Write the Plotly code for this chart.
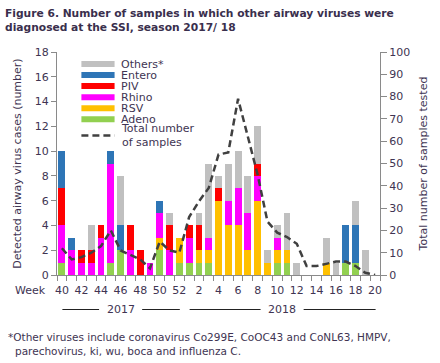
import plotly.graph_objects as go

# ---------------- data ----------------
weeks = [40, 41, 42, 43, 44, 45, 46, 47, 48, 49, 50, 51, 52,
         1, 2, 3, 4, 5, 6, 7, 8, 9, 10, 11, 12, 13, 14, 15, 16, 17, 18, 19, 20]
week_labels = [str(w) for w in weeks]

adeno  = [1, 0, 0, 0, 0, 1, 2, 0, 0, 0, 2, 0, 1,  1, 1, 1, 0, 0, 0, 0, 0, 0, 1, 1, 0, 0, 0, 0, 0, 1, 1, 0, 0]
rsv    = [0, 0, 0, 0, 0, 0, 0, 0, 0, 0, 1, 0, 2,  0, 1, 1, 6, 4, 4, 2, 6, 1, 1, 1, 0, 0, 0, 1, 0, 0, 0, 0, 0]
rhino  = [3, 2, 1, 1, 3, 8, 0, 2, 0, 1, 2, 2, 0,  2, 0, 1, 0, 2, 3, 3, 2, 0, 1, 0, 0, 0, 0, 0, 0, 0, 0, 0, 0]
piv    = [3, 0, 1, 1, 1, 0, 0, 2, 2, 0, 0, 2, 0,  1, 2, 0, 1, 0, 0, 0, 1, 0, 0, 0, 0, 0, 0, 0, 0, 0, 0, 0, 0]
entero = [3, 1, 0, 0, 0, 1, 2, 0, 0, 0, 1, 0, 0,  0, 0, 0, 0, 0, 0, 0, 0, 0, 0, 0, 0, 0, 0, 0, 0, 3, 3, 0, 0]
others = [0, 0, 0, 2, 0, 0, 4, 0, 0, 0, 0, 1, 0,  0, 1, 6, 1, 3, 3, 3, 3, 1, 1, 3, 1, 0, 0, 2, 1, 0, 2, 2, 0]
total_samples = [12, 7, 8, 10, 13, 20, 11, 9, 7, 3, 15, 11, 10,
                 26, 33, 39, 54, 55, 79, 62, 45, 24, 19, 17, 14, 4, 4, 5, 6, 6, 4, 1, 0]

series_names = ["Adeno", "RSV", "Rhino", "PIV", "Entero", "Others*"]
series_values = [adeno, rsv, rhino, piv, entero, others]
series_colors = ["#92d050", "#ffc000", "#ff00ff", "#ff0000", "#2e75b6", "#c0c0c0"]
line_name = "Total number<br>of samples"

years = ["2017", "2018"]
year_first_week = [40, 1]
year_last_week = [52, 20]

footnote_lines = ["*Other viruses include coronavirus Co299E, CoOC43 and CoNL63, HMPV,",
                  "parechovirus, ki, wu, boca and influenza C."]
title_text = ("<b>Figure 6. Number of samples in which other airway viruses were<br>"
              "diagnosed at the SSI, season 2017/ 18</b>")

# ---------------- styling ----------------
FONT = "DejaVu Sans"
TXT = "#403452"
AX = "#8a8a8a"
W, H = 440, 363
L, R, T, B = 57, 52, 52, 88
PW, PH = W - L - R, H - T - B


def px_x(p):
    return (p - L) / PW


def px_y(p):
    return (H - B - p) / PH


x = list(range(len(weeks)))

fig = go.Figure()
for name, vals, col in zip(series_names, series_values, series_colors):
    fig.add_trace(go.Bar(x=x, y=vals, name=name, marker=dict(color=col, line=dict(width=0)),
                         yaxis="y", showlegend=False))
fig.add_trace(go.Scatter(x=x, y=total_samples, mode="lines", name="Total",
                         line=dict(color="#404040", width=2.5, dash="7px,4px"),
                         yaxis="y2", showlegend=False))

fig.update_layout(
    width=W, height=H,
    margin=dict(l=L, r=R, t=T, b=B),
    paper_bgcolor="white", plot_bgcolor="white",
    barmode="stack", bargap=0.3,
    font=dict(family=FONT, size=11, color=TXT),
    title=dict(text=title_text, xref="container", yref="container",
               x=5 / W, xanchor="left", y=1 - 17 / H, yanchor="middle",
               font=dict(family=FONT, size=10.7, color="#3a2f4d")),
    xaxis=dict(range=[-0.5, len(weeks) - 0.5], tickmode="array",
               tickvals=x[::2], ticktext=week_labels[::2],
               ticks="outside", ticklen=5, tickcolor="rgba(0,0,0,0)",
               showline=True, linecolor=AX, linewidth=1, showgrid=False, zeroline=False,
               tickfont=dict(size=11, color=TXT),
               minor=dict(tickmode="array", tickvals=[i - 0.5 for i in range(len(weeks) + 1)],
                          ticks="outside", ticklen=5, tickcolor=AX, showgrid=False)),
    yaxis=dict(range=[0, 18], dtick=2, ticks="outside", ticklen=5, tickcolor=AX,
               showline=True, linecolor=AX, linewidth=1, showgrid=False, zeroline=False,
               title=dict(text="Detected airway virus cases (number)", font=dict(size=11, color=TXT),
                          standoff=10),
               tickfont=dict(size=11, color=TXT)),
    yaxis2=dict(range=[0, 100], dtick=10, overlaying="y", side="right",
                ticks="outside", ticklen=6, tickcolor=AX,
                showline=True, linecolor=AX, linewidth=1, showgrid=False, zeroline=False,
                title=dict(text="Total number of samples tested", font=dict(size=11, color=TXT),
                           standoff=10),
                tickfont=dict(size=11, color=TXT)),
)

shapes = []
annos = []

# manual legend (top to bottom: Others ... Adeno)
leg_rows = list(zip(series_names, series_colors))[::-1]
row_y0, row_step = 64.0, 11.06
for i, (name, col) in enumerate(leg_rows):
    yc = row_y0 + i * row_step
    shapes.append(dict(type="rect", xref="paper", yref="paper",
                       x0=px_x(82), x1=px_x(116), y0=px_y(yc + 3), y1=px_y(yc - 3),
                       fillcolor=col, line=dict(width=0)))
    annos.append(dict(text=name, xref="paper", yref="paper", x=px_x(122), y=px_y(yc),
                      xanchor="left", yanchor="middle", showarrow=False, borderpad=0,
                      font=dict(size=11, color=TXT)))
yl = 135.5
shapes.append(dict(type="line", xref="paper", yref="paper",
                   x0=px_x(82), x1=px_x(116), y0=px_y(yl), y1=px_y(yl),
                   line=dict(color="#404040", width=2.5, dash="7px,4px")))
annos.append(dict(text=line_name, xref="paper", yref="paper", x=px_x(122), y=px_y(yl),
                  xanchor="left", yanchor="middle", align="left", showarrow=False, borderpad=0,
                  font=dict(size=11, color=TXT)))

# "Week" label
annos.append(dict(text="Week", xref="paper", yref="paper", x=px_x(48), y=px_y(290),
                  xanchor="right", yanchor="middle", showarrow=False,
                  font=dict(size=11, color=TXT)))

# year labels with rules
yr_y = px_y(309.5)
for yr, fw, lw in zip(years, year_first_week, year_last_week):
    i0 = weeks.index(fw)
    i1 = weeks.index(lw)
    c = (i0 + i1) / 2
    half_txt = 1.6
    shapes.append(dict(type="line", xref="x", yref="paper", x0=i0 + 0.05, x1=c - half_txt - 0.6,
                       y0=yr_y, y1=yr_y, line=dict(color="#222222", width=1)))
    shapes.append(dict(type="line", xref="x", yref="paper", x0=c + half_txt + 0.6, x1=i1 + 0.05,
                       y0=yr_y, y1=yr_y, line=dict(color="#222222", width=1)))
    annos.append(dict(text=yr, xref="x", yref="paper", x=c, y=yr_y, xanchor="center",
                      yanchor="middle", showarrow=False, font=dict(size=11, color=TXT)))

# footnote
annos.append(dict(text=footnote_lines[0], xref="paper", yref="paper", x=px_x(5), y=px_y(337),
                  xanchor="left", yanchor="middle", showarrow=False, font=dict(size=10.5, color=TXT)))
annos.append(dict(text=footnote_lines[1], xref="paper", yref="paper", x=px_x(12), y=px_y(350.5),
                  xanchor="left", yanchor="middle", showarrow=False, font=dict(size=10.5, color=TXT)))

fig.update_layout(shapes=shapes, annotations=annos)
fig.write_html("out.html", config={"displayModeBar": False},
               post_script="document.body.style.margin='0';document.body.style.overflow='hidden';")
